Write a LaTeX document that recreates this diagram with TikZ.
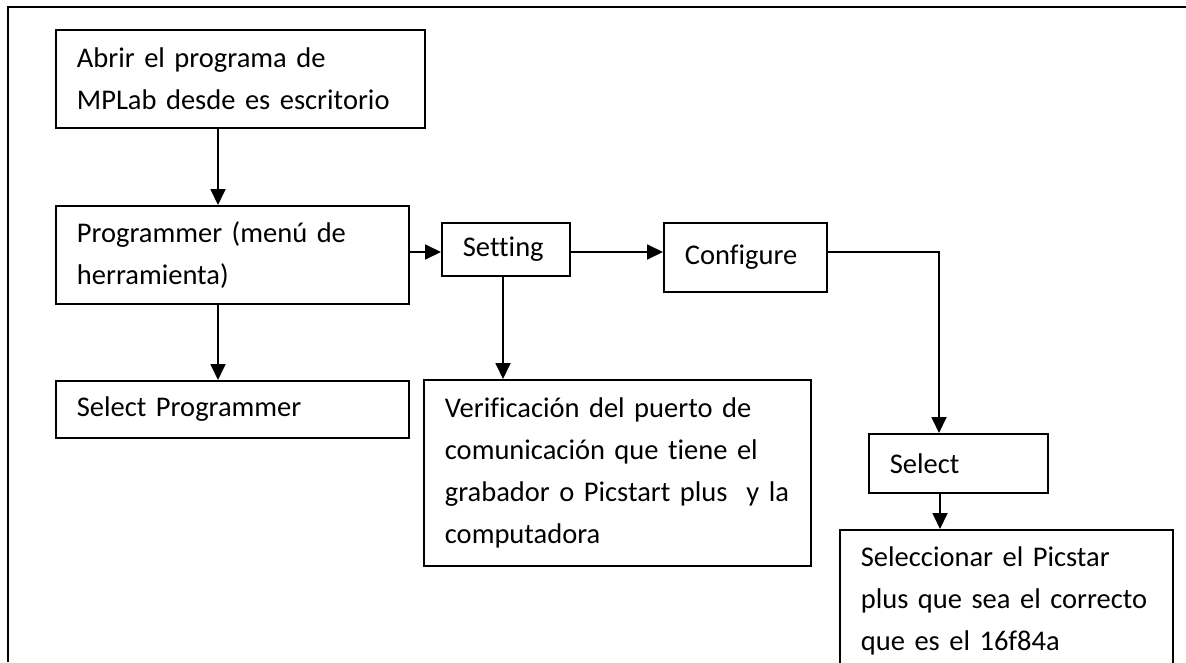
\documentclass[tikz,border=0pt]{standalone}
\usepackage{fontspec}
\setmainfont[RawFeature={-liga;-clig;-calt;-dlig}]{Carlito}
\usetikzlibrary{arrows.meta}
\begin{document}
\begin{tikzpicture}[x=1pt,y=-1pt,
  box/.style={draw, line width=1.8pt, rectangle, anchor=north west, align=left,
    inner xsep=21pt, inner ysep=0pt, font=\fontsize{28.5}{42}\selectfont},
  arr/.style={line width=1.8pt, -{Triangle[length=16pt,width=15pt]}},
  frame/.style={line width=2pt}]
\useasboundingbox (0,0) rectangle (1186,662);
\clip (0,0) rectangle (1186,662);
\coordinate (fbl) at (8,662);
\coordinate (ftl) at (8,7);
\coordinate (ftr) at (1186,7);
\draw[frame] (fbl) -- (ftl) -- (ftr);
\coordinate (yA) at (0,252);

\node[box, text width=327pt, minimum height=98pt] (abrir) at (55,29)
  {Abrir el programa de\\MPLab desde es escritorio};
\node[box, text width=311pt, minimum height=98pt] (prog) at (55,205)
  {Programmer (menú de\\herramienta)};
\node[box, text width=311pt, minimum height=57pt] (selprog) at (55,380)
  {Select Programmer};
\node[box, text width=86pt, minimum height=53pt] (setting) at (441,222)
  {Setting};
\node[box, text width=121pt, minimum height=69pt] (conf) at (663,222)
  {Configure};
\node[box, text width=345pt, minimum height=186pt] (verif) at (423,379)
  {Verificación del puerto de\\comunicación que tiene el\\grabador o Picstart plus~ y la\\computadora};
\node[box, text width=137pt, minimum height=59pt] (select) at (868,433)
  {Select};
\node[box, text width=291pt, minimum height=142pt] (selecc) at (839,529)
  {Seleccionar el Picstar\\plus que sea el correcto\\que es el 16f84a};

\draw[arr] ([xshift=163pt]abrir.south west) coordinate (a1) -- (a1 |- prog.north);
\draw[arr] ([xshift=163pt]prog.south west) coordinate (a2) -- (a2 |- selprog.north);
\draw[arr] (prog.east |- yA) -- (setting.west |- yA);
\draw[arr] (setting.east |- yA) -- (conf.west |- yA);
\draw[arr] ([xshift=62pt]setting.south west) coordinate (a3) -- (a3 |- verif.north);
\draw[arr] (conf.east |- yA) -| ([xshift=71pt]select.north west);
\draw[arr] ([xshift=72pt]select.south west) coordinate (a4) -- (a4 |- selecc.north);
\end{tikzpicture}
\end{document}
